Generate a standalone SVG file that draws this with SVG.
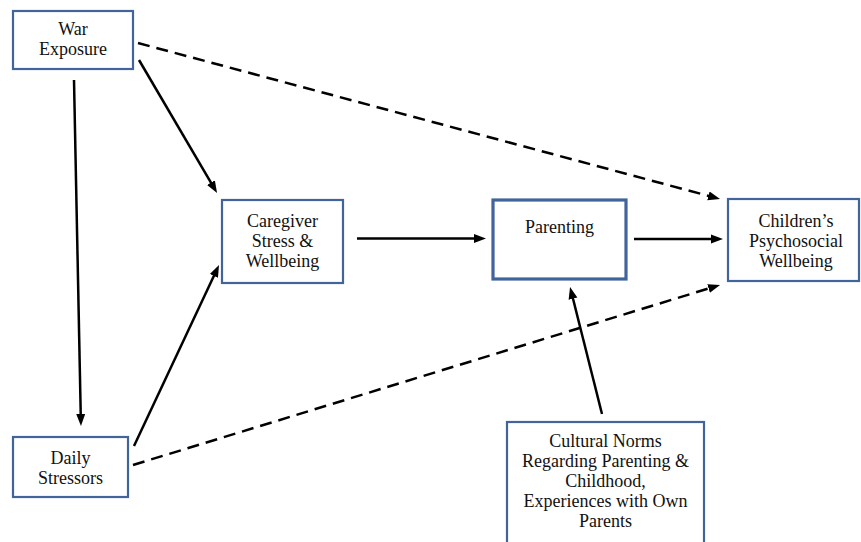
<svg xmlns="http://www.w3.org/2000/svg" width="861" height="542" viewBox="0 0 861 542">
<defs>
<marker id="ah" markerUnits="userSpaceOnUse" markerWidth="12" markerHeight="10" refX="4" refY="4.5" orient="auto" viewBox="0 0 12 9">
<path d="M0,0 L12,4.5 L0,9 z" fill="#000"/>
</marker>
</defs>
<style>
.box{fill:#fff;stroke:#41659a;stroke-width:2.2}
.thick{stroke-width:3.2}
.t{font-size:18px;fill:#111;text-anchor:middle}
.c{stroke:#000;stroke-width:2.5;fill:none;marker-end:url(#ah)}
.d{stroke-dasharray:12 7}
</style>
<rect width="861" height="542" fill="#fff"/>
<g id="connectors">
<line class="c" x1="74" y1="80" x2="80.8" y2="418"/>
<line class="c" x1="139" y1="60" x2="213" y2="186.1"/>
<line class="c" x1="134" y1="446" x2="215.6" y2="272.2"/>
<line class="c" x1="357" y1="238.5" x2="478" y2="238.5"/>
<line class="c" x1="634" y1="239" x2="715" y2="239"/>
<line class="c d" x1="138" y1="43" x2="712.3" y2="196.9"/>
<line class="c d" x1="133" y1="465" x2="712.4" y2="287.3"/>
<line class="c" x1="602" y1="414" x2="572" y2="294.8"/>
</g>
<g font-family="'Liberation Serif', 'Times New Roman', serif">
<g id="war">
<rect class="box" x="13" y="11" width="120" height="58"/>
<text class="t" x="73" y="35">War</text>
<text class="t" x="73" y="55">Exposure</text>
</g>
<g id="caregiver">
<rect class="box" x="222" y="200" width="121" height="83"/>
<text class="t" x="282.5" y="227">Caregiver</text>
<text class="t" x="282.5" y="247">Stress &amp;</text>
<text class="t" x="282.5" y="267">Wellbeing</text>
</g>
<g id="parenting">
<rect class="box thick" x="493" y="200" width="133" height="79"/>
<text class="t" x="559.5" y="233">Parenting</text>
</g>
<g id="children">
<rect class="box" x="728" y="199" width="131" height="82"/>
<text class="t" x="796" y="227">Children’s</text>
<text class="t" x="796" y="247">Psychosocial</text>
<text class="t" x="796" y="267">Wellbeing</text>
</g>
<g id="stressors">
<rect class="box" x="13" y="437" width="115" height="60"/>
<text class="t" x="70.5" y="464">Daily</text>
<text class="t" x="70.5" y="484">Stressors</text>
</g>
<g id="cultural">
<rect class="box" x="507" y="422" width="197" height="130"/>
<text class="t" x="605.5" y="447">Cultural Norms</text>
<text class="t" x="605.5" y="467">Regarding Parenting &amp;</text>
<text class="t" x="605.5" y="487">Childhood,</text>
<text class="t" x="605.5" y="507">Experiences with Own</text>
<text class="t" x="605.5" y="527">Parents</text>
</g>
</g>
</svg>
